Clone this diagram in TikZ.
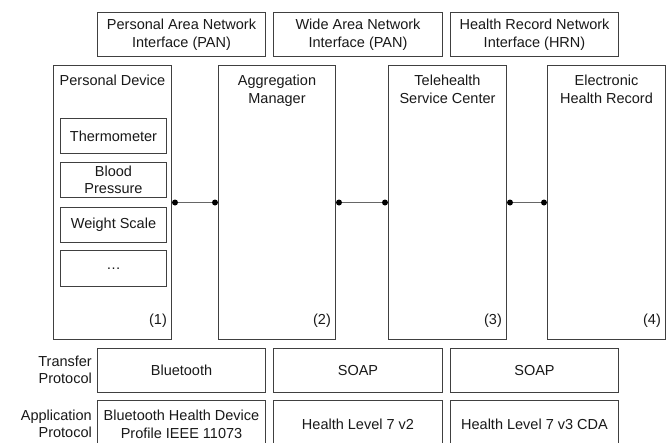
\documentclass[tikz,border=0pt]{standalone}
\usepackage{fontspec}
\setmainfont{Liberation Sans}
\begin{document}
\begin{tikzpicture}[x=1pt,y=-1pt,
  box/.style={draw=black!75, line width=1pt, inner sep=0pt, anchor=north west},
  txt/.style={font=\fontsize{14.5}{17.5}\selectfont, align=center, inner sep=0pt, text=black!90},
  conn/.style={draw=black!60, line width=1pt},
  dot/.style={circle, fill=black, inner sep=0pt, minimum size=6pt}]
\clip (0,0) rectangle (668,442);
\fill[white] (0,0) rectangle (668,442);
% top interface boxes
\node[box, txt, minimum width=168pt, minimum height=44pt] (pan) at (97,12) {Personal Area Network\\Interface (PAN)};
\node[box, txt, minimum width=169pt, minimum height=44pt] (wan) at (273,12) {Wide Area Network\\Interface (PAN)};
\node[box, txt, minimum width=168pt, minimum height=44pt] (hrn) at (450,12) {Health Record Network\\Interface (HRN)};
% big boxes
\node[box, minimum width=118pt, minimum height=274pt] (pd) at (53,65) {};
\node[box, minimum width=117pt, minimum height=274pt] (am) at (218,65) {};
\node[box, minimum width=118pt, minimum height=274pt] (ts) at (388,65) {};
\node[box, minimum width=118pt, minimum height=274pt] (ehr) at (547,65) {};
\node[txt, anchor=north] (pdt) at ([yshift=-10pt]pd.north) {Personal Device};
\node[txt, anchor=north] (amt) at ([yshift=-10pt]am.north) {Aggregation\\Manager};
\node[txt, anchor=north] (tst) at ([yshift=-10pt]ts.north) {Telehealth\\Service Center};
\node[txt, anchor=north] (ehrt) at ([yshift=-10pt]ehr.north) {Electronic\\Health Record};
\node[txt] (n1) at ([xshift=-14pt,yshift=19pt]pd.south east) {(1)};
\node[txt] (n2) at ([xshift=-14pt,yshift=19pt]am.south east) {(2)};
\node[txt] (n3) at ([xshift=-14pt,yshift=19pt]ts.south east) {(3)};
\node[txt] (n4) at ([xshift=-14pt,yshift=19pt]ehr.south east) {(4)};
% devices
\node[box, txt, minimum width=106pt, minimum height=35pt] (th) at (60,118) {Thermometer};
\node[box, txt, minimum width=106pt, minimum height=35pt] (bp) at (60,162) {Blood\\Pressure};
\node[box, txt, minimum width=106pt, minimum height=35pt] (ws) at (60,207) {Weight Scale};
\node[box, txt, minimum width=106pt, minimum height=36pt] (dd) at (60,250) {…};
% connectors
\coordinate (c1a) at ([xshift=3pt]pd.east);
\coordinate (c1b) at ([xshift=-3pt]am.west);
\coordinate (c2a) at ([xshift=3pt]am.east);
\coordinate (c2b) at ([xshift=-3pt]ts.west);
\coordinate (c3a) at ([xshift=3pt]ts.east);
\coordinate (c3b) at ([xshift=-3pt]ehr.west);
\draw[conn] (c1a) -- (c1b);
\draw[conn] (c2a) -- (c2b);
\draw[conn] (c3a) -- (c3b);
\node[dot] (d1a) at (c1a) {};
\node[dot] (d1b) at (c1b) {};
\node[dot] (d2a) at (c2a) {};
\node[dot] (d2b) at (c2b) {};
\node[dot] (d3a) at (c3a) {};
\node[dot] (d3b) at (c3b) {};
% transfer protocol
\node[txt, align=right, anchor=east] (tp) at (92,370) {Transfer\\Protocol};
\node[box, txt, minimum width=168pt, minimum height=44pt] (bt) at (97,348) {Bluetooth};
\node[box, txt, minimum width=169pt, minimum height=44pt] (soap1) at (273,348) {SOAP};
\node[box, txt, minimum width=168pt, minimum height=44pt] (soap2) at (450,348) {SOAP};
% application protocol
\node[txt, align=right, anchor=east] (ap) at (92,424) {Application\\Protocol};
\node[box, txt, minimum width=168pt, minimum height=48pt] (app1) at (97,400) {Bluetooth Health Device\\Profile IEEE 11073};
\node[box, txt, minimum width=169pt, minimum height=48pt] (app2) at (273,400) {Health Level 7 v2};
\node[box, txt, minimum width=168pt, minimum height=48pt] (app3) at (450,400) {Health Level 7 v3 CDA};
\end{tikzpicture}
\end{document}
